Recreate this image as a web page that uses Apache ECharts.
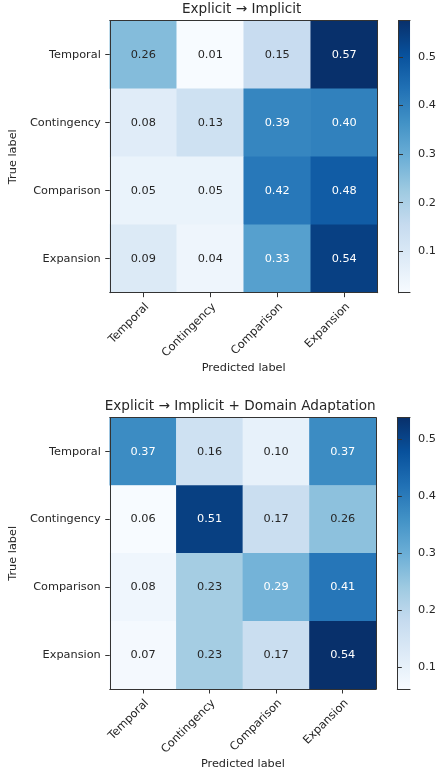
<!DOCTYPE html>
<html><head><meta charset="utf-8">
<script src="https://cdn.jsdelivr.net/npm/echarts@6/dist/echarts.min.js"></script>
<style>html,body{margin:0;padding:0;background:#fff}#c{width:439px;height:776px}</style>
</head><body><div id="c"></div>
<script>
const categories = ['Temporal', 'Contingency', 'Comparison', 'Expansion'];
const titleA = 'Explicit \u2192 Implicit';
const titleB = 'Explicit \u2192 Implicit + Domain Adaptation';
const xAxisName = 'Predicted label';
const yAxisName = 'True label';
// rows = true label, columns = predicted label
const matrixA = [
  [0.26, 0.0146, 0.15, 0.5746],
  [0.08, 0.13, 0.39, 0.40],
  [0.05, 0.05, 0.42, 0.48],
  [0.09, 0.04, 0.33, 0.54]
];
const matrixB = [
  [0.37, 0.16, 0.10, 0.37],
  [0.062, 0.51, 0.17, 0.26],
  [0.08, 0.23, 0.29, 0.41],
  [0.07, 0.23, 0.17, 0.538]
];
const colorbarTicks = [0.1, 0.2, 0.3, 0.4, 0.5];
const blues = ['#f7fbff', '#deebf7', '#c6dbef', '#9ecae1', '#6baed6', '#4292c6', '#2171b5', '#08519c', '#08306b'];

const FONT = 'DejaVu Sans';
const TXT = '#262626';
const LINE = '#333333';
const FS = 11.3;

const panels = [
  { title: titleA, m: matrixA, titleTop: 2.5,
    grid: { left: 105.7, top: 20.7, width: 272, height: 272 },
    cbar: { left: 398.5, top: 20.7, width: 13.5, height: 272 } },
  { title: titleB, m: matrixB, titleTop: 399,
    grid: { left: 104.3, top: 417.7, width: 271.7, height: 271.3 },
    cbar: { left: 397.3, top: 417.7, width: 13.4, height: 271.3 } }
];

const option = { animation: false, backgroundColor: '#fff', title: [], grid: [], xAxis: [], yAxis: [], series: [], visualMap: [] };
const lineOnly = { axisLine: { show: true, lineStyle: { color: LINE, width: 1 } }, axisTick: { show: false }, axisLabel: { show: false }, splitLine: { show: false }, z: 5 };
const txt = { color: TXT, fontFamily: FONT, fontSize: FS };

panels.forEach((p, i) => {
  const vals = p.m.flat();
  const cmin = Math.min(...vals), cmax = Math.max(...vals);
  const thresh = cmax / 2;
  const gh = 2 * i, gc = 2 * i + 1;
  option.title.push({ text: p.title, left: p.grid.left + p.grid.width / 2, top: p.titleTop, textAlign: 'center', padding: 0,
    textStyle: { color: TXT, fontFamily: FONT, fontSize: 13.6, fontWeight: 'normal' } });
  option.grid.push(Object.assign({ containLabel: false }, p.grid));
  option.grid.push(Object.assign({ containLabel: false }, p.cbar));
  const xb = option.xAxis.length;
  option.xAxis.push({ gridIndex: gh, type: 'category', data: categories, position: 'bottom',
    axisLine: { show: true, lineStyle: { color: LINE, width: 1 } },
    axisTick: { show: true, alignWithLabel: true, length: 4.5, lineStyle: { color: LINE } },
    axisLabel: Object.assign({ rotate: 45, margin: 8.5, align: 'right', verticalAlign: 'top', interval: 0 }, txt),
    splitLine: { show: false }, z: 5,
    name: xAxisName, nameLocation: 'middle', nameGap: 70, nameTextStyle: txt });
  option.xAxis.push(Object.assign({ gridIndex: gh, type: 'category', data: categories, position: 'top' }, lineOnly));
  const yl = option.yAxis.length;
  option.yAxis.push({ gridIndex: gh, type: 'category', data: categories, inverse: true, position: 'left',
    axisLine: { show: true, lineStyle: { color: LINE, width: 1 } },
    axisTick: { show: true, alignWithLabel: true, length: 4.5, lineStyle: { color: LINE } },
    axisLabel: Object.assign({ margin: 9, interval: 0 }, txt),
    splitLine: { show: false }, z: 5,
    name: yAxisName, nameLocation: 'middle', nameGap: 86, nameTextStyle: txt });
  option.yAxis.push(Object.assign({ gridIndex: gh, type: 'category', data: categories, inverse: true, position: 'right' }, lineOnly));
  // colorbar axes
  const cx = option.xAxis.length;
  option.xAxis.push(Object.assign({ gridIndex: gc, type: 'value', min: 0, max: 1, position: 'bottom' }, lineOnly));
  option.xAxis.push(Object.assign({ gridIndex: gc, type: 'value', min: 0, max: 1, position: 'top' }, lineOnly));
  option.yAxis.push(Object.assign({ gridIndex: gc, type: 'value', min: cmin, max: cmax, position: 'left' }, lineOnly));
  const cy = option.yAxis.length;
  option.yAxis.push({ gridIndex: gc, type: 'value', min: cmin, max: cmax, position: 'right',
    axisLine: { show: true, lineStyle: { color: LINE, width: 1 } },
    axisTick: { show: true, length: 4.5, lineStyle: { color: LINE }, customValues: colorbarTicks },
    axisLabel: Object.assign({ margin: 8, customValues: colorbarTicks, formatter: v => v.toFixed(1) }, txt),
    splitLine: { show: false }, z: 5 });

  const data = [];
  p.m.forEach((row, r) => row.forEach((v, c) => {
    data.push({ value: [c, r, v], label: { color: v > thresh ? '#ffffff' : TXT } });
  }));
  const si = option.series.length;
  option.series.push({ type: 'heatmap', xAxisIndex: xb, yAxisIndex: yl, data: data,
    label: { show: true, formatter: q => q.value[2].toFixed(2), fontFamily: FONT, fontSize: FS },
    itemStyle: { borderWidth: 0 }, emphasis: { disabled: true }, progressive: 0 });
  option.visualMap.push({ type: 'continuous', show: false, seriesIndex: si, dimension: 2, min: cmin, max: cmax, inRange: { color: blues } });
  const stops = blues.slice().reverse().map((col, k) => ({ offset: k / (blues.length - 1), color: col }));
  option.series.push({ type: 'custom', xAxisIndex: cx, yAxisIndex: cy, silent: true,
    data: [[0, 1, cmin, cmax]], encode: { x: [0, 1], y: [2, 3] },
    renderItem: (params, api) => {
      const a = api.coord([api.value(0), api.value(3)]);
      const b = api.coord([api.value(1), api.value(2)]);
      return { type: 'rect', shape: { x: a[0], y: a[1], width: b[0] - a[0], height: b[1] - a[1] },
        style: { fill: new echarts.graphic.LinearGradient(0, 0, 0, 1, stops) } };
    } });
});

const chart = echarts.init(document.getElementById('c'), null, { renderer: 'canvas' });
chart.setOption(option);
</script></body></html>
